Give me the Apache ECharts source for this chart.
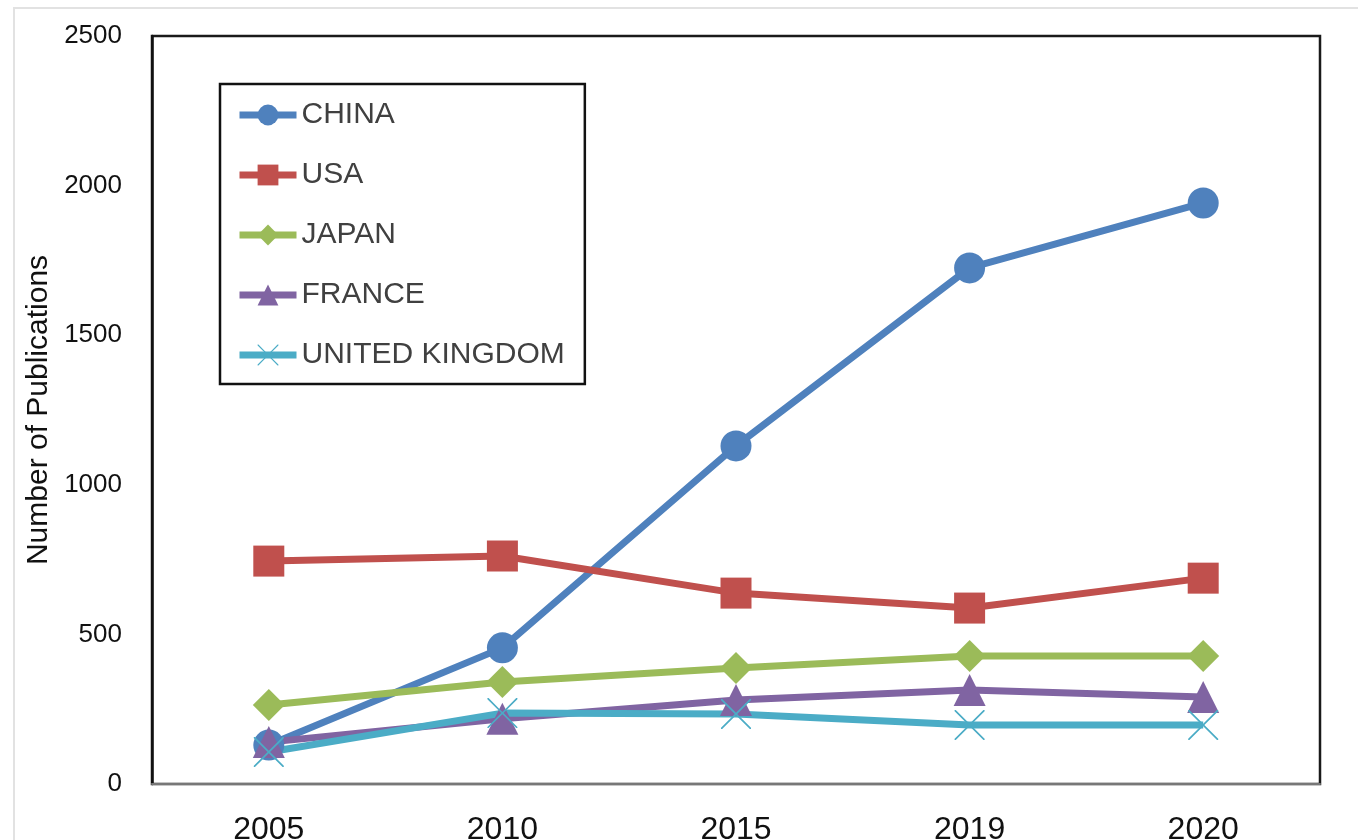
<!DOCTYPE html>
<html>
<head>
<meta charset="utf-8">
<script src="https://cdn.jsdelivr.net/npm/echarts@6/dist/echarts.min.js"></script>
<style>
html,body{margin:0;padding:0;background:#fff;}
#c{width:1358px;height:840px;}
</style>
</head>
<body>
<div id="c"></div>
<script>
const years = ['2005', '2010', '2015', '2019', '2020'];
const china = [130, 455, 1130, 1725, 1942];
const usa = [745, 762, 638, 588, 688];
const japan = [264, 341, 388, 428, 428];
const france = [140, 218, 281, 314, 291];
const uk = [107, 237, 234, 197, 197];
const yTicks = [0, 500, 1000, 1500, 2000, 2500];

const xPath = 'path://M0,0 L4,0 L50,46 L96,0 L100,0 L100,4 L54,50 L100,96 L100,100 L96,100 L50,54 L4,100 L0,100 L0,96 L46,50 L0,4 Z';

const font = 'Liberation Sans, Arial, sans-serif';

function mk(name, data, color, symbol, size) {
  return {
    name: name, type: 'line', data: data, symbol: symbol, symbolSize: size,
    lineStyle: {color: color, width: 7},
    itemStyle: {color: color},
    emphasis: {disabled: true},
    animation: false
  };
}

const chart = echarts.init(document.getElementById('c'));
chart.setOption({
  backgroundColor: '#fff',
  animation: false,
  graphic: [
    {type: 'polyline', shape: {points: [[14, 840], [14, 8], [1358, 8]]}, style: {stroke: '#e2e2e2', lineWidth: 2, fill: null}}
  ],
  grid: {left: 152, right: 38, top: 36, bottom: 56, outerBoundsMode: 'none', show: true, borderColor: '#1a1a1a', borderWidth: 2.5, backgroundColor: 'transparent'},
  legend: {
    orient: 'vertical', left: 220, top: 84,
    padding: [16, 20, 14, 16],
    itemGap: 30, itemWidth: 57, itemHeight: 26,
    borderColor: '#111', borderWidth: 2.5,
    lineStyle: {width: 7},
    textStyle: {fontSize: 30, color: '#404040', fontFamily: font},
    data: ['CHINA', 'USA', 'JAPAN', 'FRANCE', 'UNITED KINGDOM']
  },
  xAxis: {
    type: 'category', data: years, boundaryGap: true,
    axisLine: {show: true, lineStyle: {color: '#777', width: 2}},
    axisTick: {show: false},
    axisLabel: {fontSize: 32, color: '#111', margin: 30, fontFamily: font}
  },
  yAxis: {
    type: 'value', min: yTicks[0], max: yTicks[yTicks.length - 1], interval: 500,
    name: 'Number of Publications', nameLocation: 'middle', nameGap: 90,
    nameTextStyle: {fontSize: 30, color: '#111', fontFamily: font},
    axisLine: {show: true, lineStyle: {color: '#111', width: 2.5}},
    axisTick: {show: false},
    splitLine: {show: false},
    axisLabel: {fontSize: 26, color: '#111', margin: 30, fontFamily: font, formatter: function (v) { return String(v); }}
  },
  series: [
    mk('CHINA', china, '#4F81BD', 'circle', 31),
    mk('USA', usa, '#C0504D', 'rect', 31),
    mk('JAPAN', japan, '#9BBB59', 'diamond', 32),
    mk('FRANCE', france, '#8064A2', 'triangle', 32),
    mk('UNITED KINGDOM', uk, '#4BACC6', xPath, 30)
  ]
});
</script>
</body>
</html>
